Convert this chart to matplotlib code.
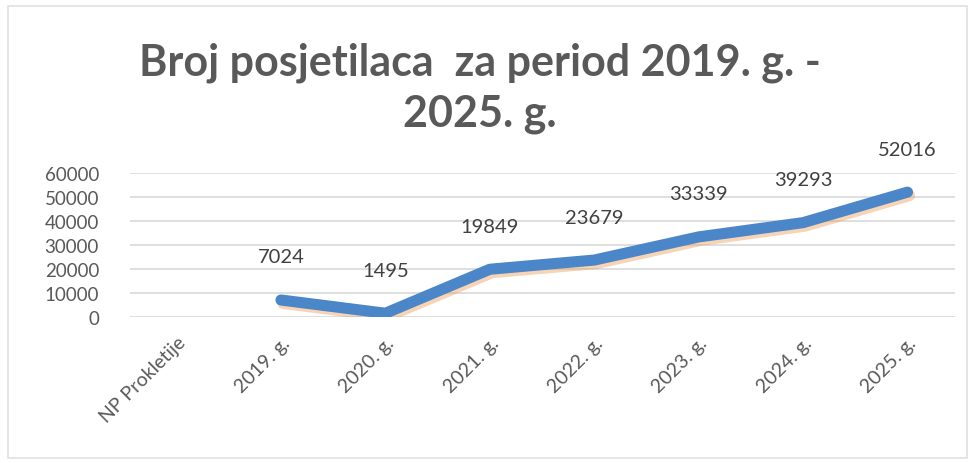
import matplotlib.pyplot as plt
import matplotlib.patheffects as pe
from matplotlib.patches import Rectangle

# Podaci
categories = ['NP Prokletije', '2019. g.', '2020. g.', '2021. g.', '2022. g.',
              '2023. g.', '2024. g.', '2025. g.']
years_idx = [1, 2, 3, 4, 5, 6, 7]
visitors = [7024, 1495, 19849, 23679, 33339, 39293, 52016]
yticks = [0, 10000, 20000, 30000, 40000, 50000, 60000]

plt.rcParams['font.family'] = ['Lato', 'DejaVu Sans']

fig = plt.figure(figsize=(9.74, 4.64), dpi=100)
ax = fig.add_axes([0.133, 0.315, 0.847, 0.31])

# blaga narandzasta sjena ispod plave linije, kao u Excelu
ax.plot(years_idx, visitors, color='#4a86c8', lw=8, solid_capstyle='round',
        solid_joinstyle='round', zorder=3,
        path_effects=[pe.SimpleLineShadow(offset=(1.5, -2.5), shadow_color='#f0a060', alpha=0.45),
                      pe.Normal()])

for x, v in zip(years_idx, visitors):
    ax.annotate(str(v), (x, v), xytext=(0, 31), textcoords='offset points',
                ha='center', va='center', fontsize=14.5, color='#404040')

ax.set_xlim(-0.45, 7.45)
ax.set_ylim(0, 60000)
ax.set_yticks(yticks)
ax.set_yticklabels([str(t) for t in yticks], fontsize=13.5, color='#595959')
ax.set_xticks(range(len(categories)))
ax.set_xticklabels(categories, rotation=45, ha='right', rotation_mode='anchor',
                   fontsize=14, color='#595959')
ax.tick_params(axis='both', length=0)
ax.tick_params(axis='y', pad=22)
ax.tick_params(axis='x', pad=12)
ax.grid(axis='y', color='#d9d9d9', lw=1.2)
ax.set_axisbelow(True)
for s in ax.spines.values():
    s.set_visible(False)

fig.text(0.493, 0.865, 'Broj posjetilaca  za period 2019. g. -', ha='center', va='center',
         fontsize=31, fontweight='bold', color='#595959')
fig.text(0.493, 0.755, '2025. g.', ha='center', va='center',
         fontsize=31, fontweight='bold', color='#595959')

fig.patches.append(Rectangle((0.008, 0.01), 0.985, 0.975, transform=fig.transFigure,
                             fill=False, edgecolor='#e0e0e0', lw=1.2))

fig.savefig('out.png', dpi=100)
